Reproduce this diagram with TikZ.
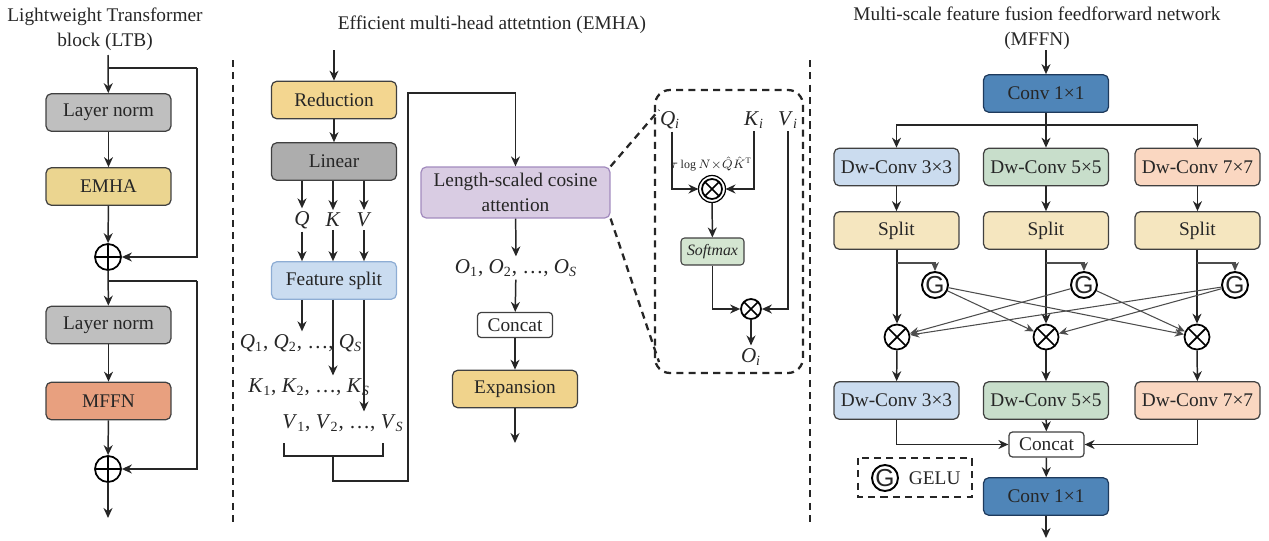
\documentclass[tikz,border=0pt]{standalone}
\usepackage{fontspec}
\setmainfont{Liberation Serif}
\newfontfamily\gelufont{Liberation Sans}
\usetikzlibrary{arrows.meta, positioning, calc}
\definecolor{txt}{HTML}{262626}
\definecolor{boxline}{HTML}{404040}
\definecolor{lngray}{HTML}{BFBFBF}
\definecolor{linfill}{HTML}{ADADAD}
\definecolor{emhafill}{HTML}{EBD590}
\definecolor{mffnfill}{HTML}{E8A07F}
\definecolor{redfill}{HTML}{F3D690}
\definecolor{expfill}{HTML}{F0D38C}
\definecolor{fsfill}{HTML}{CADCF0}
\definecolor{fsline}{HTML}{8EADD4}
\definecolor{lscafill}{HTML}{D9CCE3}
\definecolor{lscaline}{HTML}{A28BBE}
\definecolor{smfill}{HTML}{D4E6D1}
\definecolor{convfill}{HTML}{4F85B8}
\definecolor{convline}{HTML}{1E3A5C}
\definecolor{dwthree}{HTML}{CBDCEF}
\definecolor{dwfive}{HTML}{C8DECB}
\definecolor{dwseven}{HTML}{FAD7C1}
\definecolor{splitfill}{HTML}{F5E6BF}
\tikzset{
  blk/.style    = {draw=boxline, rounded corners=3pt, line width=0.7pt,
                   minimum width=2.5cm, minimum height=0.75cm, inner sep=2pt, align=center},
  smallblk/.style = {draw=boxline, rounded corners=2pt, line width=0.7pt, fill=white,
                   minimum width=1.5cm, minimum height=0.5cm, inner sep=1pt},
  arr/.style    = {-{Stealth[length=2mm, width=1.8mm]}, line width=0.85pt, draw=txt},
  thinarr/.style = {-{Stealth[length=1.8mm, width=1.6mm]}, line width=0.6pt, draw=black!70},
  lbl/.style    = {inner sep=1.5pt},
  zoomline/.style = {line width=1.3pt, dash pattern=on 4pt off 3pt, draw=txt},
  oplus/.style  = {circle, draw=black, line width=1pt, minimum size=0.52cm, inner sep=0pt,
                   path picture={\draw[line width=1pt]
                     (path picture bounding box.north) -- (path picture bounding box.south)
                     (path picture bounding box.west) -- (path picture bounding box.east);}},
  otimes/.style = {circle, draw=black, line width=1pt, minimum size=0.5cm, inner sep=0pt,
                   path picture={\draw[line width=1pt]
                     (path picture bounding box.north west) -- (path picture bounding box.south east)
                     (path picture bounding box.north east) -- (path picture bounding box.south west);}},
  gelu/.style   = {circle, draw=black, line width=1.1pt, minimum size=0.52cm, inner sep=0pt,
                   font=\gelufont\fontsize{14}{14}\selectfont},
}

\begin{document}
\begin{tikzpicture}[x=0.02cm, y=-0.02cm, every node/.style={font=\fontsize{11}{14.2}\selectfont, text=txt}]
  \useasboundingbox (0,0) rectangle (1269,541);

  % ---- LTB ----
  \node[lbl, align=center] (ttl1) at (105,29.5) {Lightweight Transformer\\block (LTB)};
  \coordinate (in1) at (108,55);
  \node[blk, fill=lngray] (ln1) at (108.5,112.5) {Layer norm};
  \node[blk, fill=emhafill] (emha) at (108.5,186.5) {EMHA};
  \node[oplus] (add1) at (108,257) {};
  \node[blk, fill=lngray] (ln2) at (108.5,325) {Layer norm};
  \node[blk, fill=mffnfill] (mffn) at (108.5,401) {MFFN};
  \node[oplus] (add2) at (108,469) {};
  \coordinate (out1) at (108,518);
  \coordinate (sk1) at (108,68);
  \coordinate (sk1r) at (197,68);
  \coordinate (sk2) at (108,281);
  \coordinate (sk2r) at (197,281);
  \draw[arr] (in1) -- (ln1);
  \draw[arr] (ln1) -- (emha);
  \draw[arr] (emha) -- (add1);
  \draw[line width=0.85pt, draw=txt] (sk1) -- (sk1r);
  \draw[arr] (sk1r) |- (add1);
  \draw[arr] (add1) -- (ln2);
  \draw[arr] (ln2) -- (mffn);
  \draw[arr] (mffn) -- (add2);
  \draw[line width=0.85pt, draw=txt] (sk2) -- (sk2r);
  \draw[arr] (sk2r) |- (add2);
  \draw[arr] (add2) -- (out1);

  % separators
  \draw[zoomline] (233,60) -- (233,525);
  \draw[zoomline] (810,60) -- (810,525);

  % ---- EMHA ----
  \node[lbl] (ttl2) at (492,25) {Efficient multi-head attetntion (EMHA)};
  \coordinate (in2) at (334,50);
  \node[blk, fill=redfill] (red) at (334,100) {Reduction};
  \node[blk, fill=linfill] (lin) at (334,161.5) {Linear};
  \node[lbl, font=\fontsize{12}{14}\selectfont] (q) at (302,220) {\textit{Q}};
  \node[lbl, font=\fontsize{12}{14}\selectfont] (k) at (333,220) {\textit{K}};
  \node[lbl, font=\fontsize{12}{14}\selectfont] (v) at (364,220) {\textit{V}};
  \node[blk, fill=fsfill, draw=fsline] (fs) at (334,280.5) {Feature split};
  \node[lbl, font=\fontsize{12}{14}\selectfont] (ql) at (301,343)
    {\textit{Q}\textsubscript{1}, \textit{Q}\textsubscript{2}, \ldots, \textit{Q}\textsubscript{\textit{S}}};
  \node[lbl, font=\fontsize{12}{14}\selectfont] (kl) at (309,387)
    {\textit{K}\textsubscript{1}, \textit{K}\textsubscript{2}, \ldots, \textit{K}\textsubscript{\textit{S}}};
  \node[lbl, font=\fontsize{12}{14}\selectfont] (vl) at (343,423)
    {\textit{V}\textsubscript{1}, \textit{V}\textsubscript{2}, \ldots, \textit{V}\textsubscript{\textit{S}}};
  \draw[arr] (in2) -- (red);
  \draw[arr] (red) -- (lin);
  \draw[arr] (lin.south -| q) -- (q);
  \draw[arr] (lin.south -| k) -- (k);
  \draw[arr] (lin.south -| v) -- (v);
  \draw[arr] (q) -- (q |- fs.north);
  \draw[arr] (k) -- (k |- fs.north);
  \draw[arr] (v) -- (v |- fs.north);
  \draw[arr] (fs.south -| q) -- (q |- ql.north);
  \draw[arr] (fs.south -| k) -- (k |- kl.north);
  \draw[arr] (fs.south -| v) -- (v |- vl.north);
  % bracket
  \draw[line width=0.85pt, draw=txt] (284,443) -- (284,456) -- (383,456) -- (383,443);
  \coordinate (brk) at (333,456);
  \node[blk, fill=lscafill, draw=lscaline, minimum width=3.78cm, minimum height=1.02cm]
    (lsca) at (515.5,192.5) {Length-scaled cosine\\attention};
  \draw[arr] (brk) -- (333,481) -- (408,481) -- (408,93) -| (lsca);
  \node[lbl, font=\fontsize{12}{14}\selectfont] (ol) at (516,268)
    {\textit{O}\textsubscript{1}, \textit{O}\textsubscript{2}, \ldots, \textit{O}\textsubscript{\textit{S}}};
  \node[smallblk] (cc1) at (515,325) {Concat};
  \node[blk, fill=expfill] (exp) at (515,389) {Expansion};
  \coordinate (out2) at (515,443);
  \draw[arr] (lsca) -- (ol);
  \draw[arr] (ol) -- (cc1);
  \draw[arr] (cc1) -- (exp);
  \draw[arr] (exp) -- (out2);

  % zoomed attention
  \draw[zoomline, rounded corners=0.3cm] (655,90) rectangle (803,373);
  \coordinate (zb1) at (659,110);
  \coordinate (zb2) at (659,362);
  \draw[zoomline] (lsca.north east) -- (zb1);
  \draw[zoomline] (lsca.south east) -- (zb2);
  \node[lbl, font=\fontsize{12}{14}\selectfont] (qi) at (670,120) {\textit{Q}\textsubscript{\textit{i}}};
  \node[lbl, font=\fontsize{12}{14}\selectfont] (ki) at (754,120) {\textit{K}\textsubscript{\textit{i}}};
  \node[lbl, font=\fontsize{12}{14}\selectfont] (vi) at (788,120) {\textit{V}\textsubscript{\textit{i}}};
  \node[otimes, minimum size=0.4cm, outer sep=2pt] (m1) at (712,189) {};
  \draw[line width=0.7pt] (m1) circle[radius=0.27cm];
  \node[inner sep=0pt, font=\fontsize{6.8}{8}\selectfont] (tau) at (711,164) {$\tau\log N{\times}\hat{Q}\hat{K}^{\mathrm{T}}$};
  \node[draw=boxline, fill=smfill, rounded corners=2pt, line width=0.6pt, minimum width=1.26cm,
        minimum height=0.54cm, inner sep=1pt, font=\fontsize{9}{10}\selectfont] (sm) at (712.5,251.5) {\textit{Softmax}};
  \node[otimes, minimum size=0.4cm] (m2) at (751,309) {};
  \node[lbl, font=\fontsize{12}{14}\selectfont] (oi) at (751,357) {\textit{O}\textsubscript{\textit{i}}};
  \draw[arr] (qi.south -| 672,0) |- (m1);
  \draw[arr] (ki) |- (m1);
  \draw[arr] (m1) -- (sm);
  \draw[arr] (sm) |- (m2);
  \draw[arr] (vi) |- (m2);
  \draw[arr] (m2) -- (oi);

  % ---- MFFN ----
  \node[lbl, align=center] (ttl3) at (1037,28.5) {Multi-scale feature fusion feedforward network\\(MFFN)};
  \coordinate (in3) at (1046,50);
  \node[blk, fill=convfill, draw=convline] (c1) at (1046,93.5) {Conv 1×1};
  \coordinate (br) at (1046,125);
  \node[blk, fill=dwthree] (d1) at (896.5,167) {Dw-Conv 3×3};
  \node[blk, fill=dwfive] (d2) at (1046,167) {Dw-Conv 5×5};
  \node[blk, fill=dwseven] (d3) at (1197.5,167) {Dw-Conv 7×7};
  \node[blk, fill=splitfill] (s1) at (896.5,230.5) {Split};
  \node[blk, fill=splitfill] (s2) at (1046,230.5) {Split};
  \node[blk, fill=splitfill] (s3) at (1197.5,230.5) {Split};
  \node[gelu] (g1) at (935,285) {G};
  \node[gelu] (g2) at (1084,285) {G};
  \node[gelu] (g3) at (1235,285) {G};
  \node[otimes] (x1) at (897,337) {};
  \node[otimes] (x2) at (1046,337) {};
  \node[otimes] (x3) at (1197,337) {};
  \coordinate (b1) at (897,263);
  \coordinate (b2) at (1046,263);
  \coordinate (b3) at (1197,263);
  \node[blk, fill=dwthree] (e1) at (896.5,400.5) {Dw-Conv 3×3};
  \node[blk, fill=dwfive] (e2) at (1046,400.5) {Dw-Conv 5×5};
  \node[blk, fill=dwseven] (e3) at (1197.5,400.5) {Dw-Conv 7×7};
  \node[smallblk] (cc2) at (1046.5,444.5) {Concat};
  \node[blk, fill=convfill, draw=convline] (c2) at (1046,496.5) {Conv 1×1};
  \coordinate (out3) at (1046,538);

  \draw[arr] (in3) -- (c1);
  \draw[arr] (c1) -- (d2);
  \draw[arr] (br) -| (d1);
  \draw[arr] (br) -| (d3);
  \draw[arr] (d1) -- (s1);
  \draw[arr] (d2) -- (s2);
  \draw[arr] (d3) -- (s3);
  \draw[arr] (s1.south -| x1) -- (x1);
  \draw[arr] (s2.south -| x2) -- (x2);
  \draw[arr] (s3.south -| x3) -- (x3);
  \draw[thinarr] (b1) -| (g1);
  \draw[thinarr] (b2) -| (g2);
  \draw[thinarr] (b3) -| (g3);
  \draw[thinarr] (g2) -- (x1);
  \draw[thinarr] (g3) -- (x1);
  \draw[thinarr] (g1) -- (x2);
  \draw[thinarr] (g3) -- (x2);
  \draw[thinarr] (g1) -- (x3);
  \draw[thinarr] (g2) -- (x3);
  \draw[arr] (x1) -- (e1);
  \draw[arr] (x2) -- (e2);
  \draw[arr] (x3) -- (e3);
  \draw[arr] (e1) |- (cc2);
  \draw[arr] (e2) -- (cc2);
  \draw[arr] (e3) |- (cc2);
  \draw[arr] (cc2) -- (c2);
  \draw[arr] (c2) -- (out3);

  % legend
  \draw[zoomline, line width=1pt] (858,458) rectangle (972,497);
  \node[gelu] (gl) at (885,478) {G};
  \node[lbl, right=4pt of gl] (gltxt) {GELU};
\end{tikzpicture}
\end{document}
